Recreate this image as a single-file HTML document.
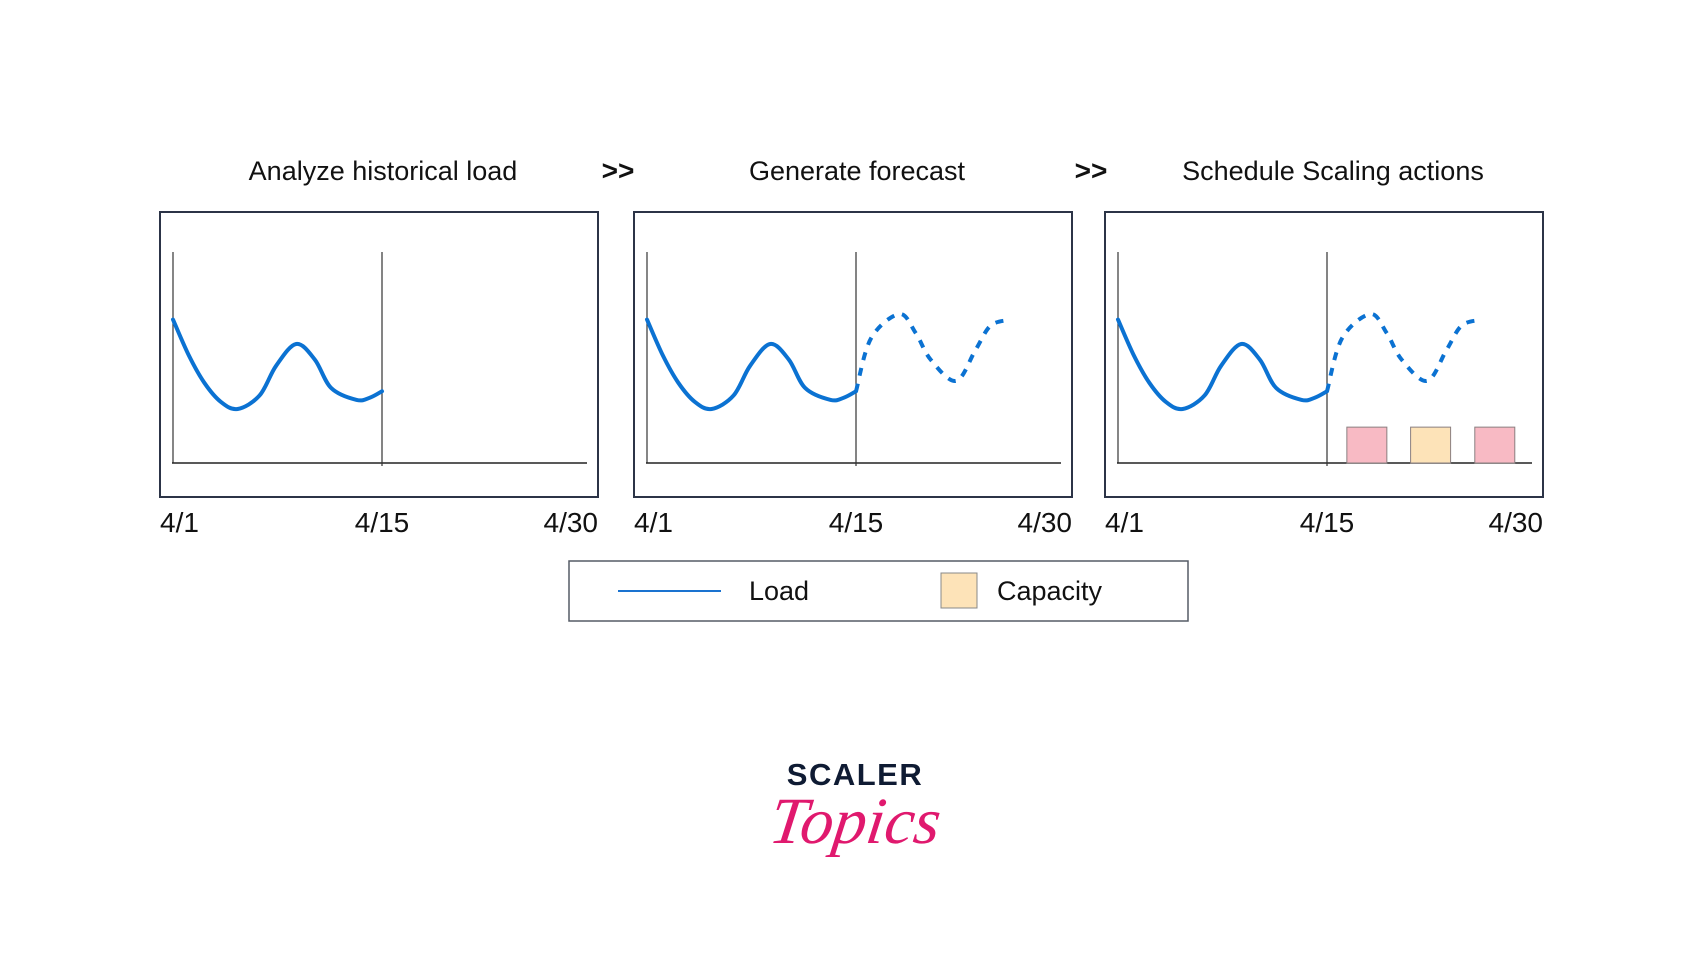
<!DOCTYPE html>
<html><head><meta charset="utf-8">
<style>
body{margin:0;background:#fff;width:1701px;height:968px;overflow:hidden;font-family:"Liberation Sans",sans-serif;}
svg{display:block}
</style></head>
<body>
<svg id="chart" width="1701" height="968" xmlns="http://www.w3.org/2000/svg">
<g id="titles" font-family="Liberation Sans, sans-serif" font-size="27" fill="#111" text-anchor="middle">
<text x="383" y="180">Analyze historical load</text>
<text x="618" y="180" font-weight="bold" font-size="28">&gt;&gt;</text>
<text x="857" y="180">Generate forecast</text>
<text x="1091" y="180" font-weight="bold" font-size="28">&gt;&gt;</text>
<text x="1333" y="180">Schedule Scaling actions</text>
</g>
<g id="panels"></g>
<g id="legend">
<rect x="569" y="561" width="619" height="60" fill="#fff" stroke="#555b66" stroke-width="1.5"/>
<line x1="618" y1="591" x2="721" y2="591" stroke="#1a73d0" stroke-width="2"/>
<text x="749" y="600" font-size="27" fill="#111">Load</text>
<rect x="941" y="573" width="36" height="35" fill="#fde3b8" stroke="#888" stroke-width="1"/>
<text x="997" y="600" font-size="27" fill="#111">Capacity</text>
</g>
<g id="logo">
<text x="855" y="785" text-anchor="middle" font-size="31" font-weight="bold" letter-spacing="1.5" fill="#0f1b33">SCALER</text>
<text x="853" y="843" text-anchor="middle" font-family="Liberation Serif, serif" font-style="italic" font-size="66" fill="#e0196e" transform="skewX(-8) translate(118 0)">Topics</text>
</g>
</svg>
<script>
// Historical load (day, load 0-100)
const histDays = [1, 2.06, 3.1, 4.2, 5.33, 6.8, 7.9, 9.25, 10.5, 11.6, 13.3, 14.2, 15];
const histLoad = [68, 51, 38, 29, 25.6, 32, 46, 56.4, 49, 35.5, 29.9, 31, 34];
// Forecast load
const fcDays = [15, 16, 17.9, 19, 20, 21.7, 23, 24, 25.2];
const fcLoad = [34, 59, 70.6, 61.6, 49, 38.9, 53.5, 65, 67.8];
// Scheduled capacity actions (day start, level, type)
const capDays = [16.33, 20.6, 24.9];
const capLevel = [17, 17, 17];
const capTypes = ['scale', 'capacity', 'scale'];
const tickLabels = ['4/1', '4/15', '4/30'];
const panelLefts = [160, 634, 1105];

const NS = 'http://www.w3.org/2000/svg';
const panelsG = document.getElementById('panels');
function mk(tag, attrs, parent){
  const e = document.createElementNS(NS, tag);
  for (const k in attrs) e.setAttribute(k, attrs[k]);
  parent.appendChild(e); return e;
}
function pathFrom(pts){
  let d = 'M' + pts[0][0] + ',' + pts[0][1];
  for (let i = 0; i < pts.length - 1; i++){
    const p0 = pts[Math.max(i-1,0)], p1 = pts[i], p2 = pts[i+1], p3 = pts[Math.min(i+2, pts.length-1)];
    const c1 = [p1[0] + (p2[0]-p0[0])/6, p1[1] + (p2[1]-p0[1])/6];
    const c2 = [p2[0] - (p3[0]-p1[0])/6, p2[1] - (p3[1]-p1[1])/6];
    d += ' C' + c1[0] + ',' + c1[1] + ' ' + c2[0] + ',' + c2[1] + ' ' + p2[0] + ',' + p2[1];
  }
  return d;
}
panelLefts.forEach((L, pi) => {
  const g = mk('g', {}, panelsG);
  
  
  const x0 = L + 13;
  const xs = d => x0 + (d - 1) * (209 / 14);
  const ys = v => 463 - v * 2.11;
  const box = mk('rect', {x: L, y: 212, width: 438, height: 285, fill: '#fff', stroke: '#2c3447', 'stroke-width': 2}, g);
  
  
  const ya = mk('line', {x1: x0, y1: 252, x2: x0, y2: 463, stroke: '#444', 'stroke-width': 1.3}, g);
  
  
  const xa = mk('line', {x1: x0 - 1, y1: 463, x2: L + 427, y2: 463, stroke: '#222', 'stroke-width': 1.5}, g);
  
  
  const vl = mk('line', {x1: xs(15), y1: 252, x2: xs(15), y2: 466, stroke: '#333', 'stroke-width': 1.2}, g);
  
  
  const hp = mk('path', {d: pathFrom(histDays.map((d,i)=>[xs(d), ys(histLoad[i])])), fill: 'none', stroke: '#0b72d2', 'stroke-width': 4, 'stroke-linecap': 'round'}, g);
  
  
  if (pi > 0){
    const fp = mk('path', {d: pathFrom(fcDays.map((d,i)=>[xs(d), ys(fcLoad[i])])), fill: 'none', stroke: '#0b72d2', 'stroke-width': 4, 'stroke-dasharray': '8 8'}, g);
    
    
  }
  if (pi === 2){
    capDays.forEach((d, i) => {
      const h = capLevel[i] * 2.11;
      const r = mk('rect', {x: xs(d), y: 463 - h, width: 40, height: h, fill: capTypes[i]==='capacity' ? '#fde3b8' : '#f8bac4', stroke: '#8a7f80', 'stroke-width': 1}, g);
      
      
    });
  }
  const tx = [L, xs(15), L + 438];
  const anchors = ['start', 'middle', 'end'];
  tickLabels.forEach((t, i) => {
    const tt = mk('text', {x: tx[i], y: 532, 'font-size': 28, fill: '#111', 'text-anchor': anchors[i]}, g);
    tt.textContent = t;
    
    
  });
});
</script>
</body></html>
